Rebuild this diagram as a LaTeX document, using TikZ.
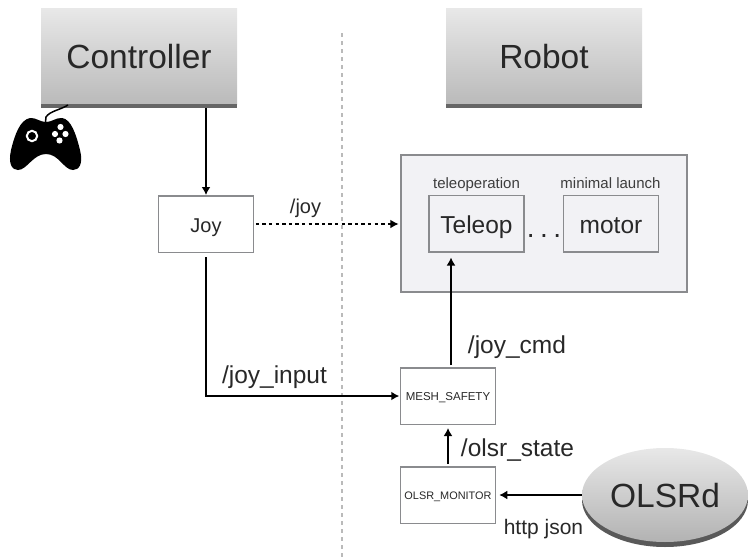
\documentclass[tikz,border=0pt]{standalone}
\usepackage{fontspec}
\setmainfont{Liberation Sans}
\usetikzlibrary{arrows.meta,shapes.geometric}
\definecolor{boxline}{HTML}{8A8B8E}
\definecolor{panel}{HTML}{F2F2F5}
\definecolor{txt}{HTML}{282828}
\newcommand{\dropped}[2]{\raisebox{-#1}[0pt][0pt]{#2}}
\tikzset{
  x=1pt,y=-1pt,
  flow/.style={line width=1.7pt,-{Latex[length=8pt,width=9pt]}},
  flowdash/.style={line width=1.7pt,dash pattern=on 3.4pt off 3.2pt,-{Latex[length=8.5pt,width=9pt]}},
  plainbox/.style={draw=boxline,line width=1.5pt,fill=white,inner sep=0pt,text=txt,minimum width=95pt,minimum height=56.5pt},
  innerbox/.style={draw=boxline,line width=1.5pt,fill=panel,inner sep=0pt,text=txt,minimum width=95pt,minimum height=56.5pt,font=\fontsize{24.5}{28}\selectfont},
  header/.style={inner sep=0pt,minimum width=196pt,minimum height=96pt,top color=black!9,bottom color=black!27,text=txt,font=\fontsize{33.5}{36}\selectfont},
  headerbar/.style={inner sep=0pt,minimum width=196pt,minimum height=3.7pt,fill=black!60},
  lab/.style={text=txt,inner sep=0pt,anchor=base,font=\fontsize{24.5}{28}\selectfont},
  small/.style={text=txt!90,inner sep=0pt,anchor=base,font=\fontsize{15}{18}\selectfont}
}
\begin{document}
\begin{tikzpicture}
\useasboundingbox (0,0) rectangle (748,560);
\draw[black!27,line width=2pt,dash pattern=on 4.2pt off 3.8pt] (342,33) -- (342,560);
% headers
\node[header] (ctrl) at (139,56) {\dropped{12.5pt}{Controller}};
\node[headerbar] (ctrlbar) at (139,105.8) {};
\node[header] (robot) at (544,56) {\dropped{12.5pt}{Robot}};
\node[headerbar] (robotbar) at (544,105.8) {};
% gamepad
\draw[line width=1.5pt,black] (68,105) .. controls (60,110) and (50,111) .. (46,117) -- (45.5,122);
\fill[black]
  (30,118) .. controls (36,117.5) and (40,122) .. (46,122)
  .. controls (52,122) and (56,117.5) .. (62,118)
  .. controls (71,119) and (76,134) .. (80,150)
  .. controls (83.5,164) and (79,170) .. (73,170)
  .. controls (64,170) and (59,154) .. (46,154)
  .. controls (33,154) and (27,170) .. (18,170)
  .. controls (12,170) and (8,164) .. (11,150)
  .. controls (15,134) and (20,120) .. (30,118) -- cycle;
\draw[white,line width=2pt] (32,136) circle (5.2pt);
\foreach \p in {(60.5,127),(55,134),(65.5,134),(59.5,140.5)} \fill[white] \p circle (3.1pt);
% panel
\node[draw=boxline,line width=1.5pt,fill=panel,minimum width=286pt,minimum height=137pt,inner sep=0pt] (panelbox) at (544,223.5) {};
\node[innerbox] (teleop) at (476.5,223.5) {\dropped{9.5pt}{Teleop}};
\node[innerbox] (motor) at (611,223.5) {\dropped{9.5pt}{motor}};
\node[small] (tlab) at (476.5,188) {teleoperation};
\node[small] (mlab) at (610.5,188) {minimal launch};
\node[text=txt,inner sep=0pt,anchor=base,font=\fontsize{28}{28}\selectfont] (dots) at (544,237) {.\hspace{5.5pt}.\hspace{5.5pt}.};
% boxes
\node[plainbox,font=\fontsize{20}{24}\selectfont] (joy) at (206,224) {\dropped{8.7pt}{Joy}};
\node[plainbox,font=\fontsize{11.5}{13}\selectfont] (mesh) at (448,396) {\dropped{4pt}{MESH\_SAFETY}};
\node[plainbox,font=\fontsize{10.9}{13}\selectfont] (olsrm) at (448,495) {\dropped{4pt}{OLSR\_MONITOR}};
% olsrd
\node[ellipse,inner sep=0pt,minimum width=166pt,minimum height=94pt,fill=black!65] (olsrshadow) at (665,500) {};
\node[ellipse,inner sep=0pt,minimum width=166pt,minimum height=94pt,top color=black!9,bottom color=black!30,text=txt,font=\fontsize{33.5}{36}\selectfont] (olsrd) at (665,495) {\dropped{12pt}{OLSRd}};
% connectors
\draw[flow] (joy.north |- ctrlbar.south) -- (joy.north);
\draw[flowdash,shorten <=1.5pt,shorten >=1.5pt] (joy.east) -- (joy.east -| panelbox.west);
\draw[flow,shorten <=2pt,shorten >=5pt] ([xshift=3pt]mesh.north) -- ([xshift=3pt]mesh.north |- teleop.south);
\draw[flow,shorten <=4pt,shorten >=0.5pt] (joy.south) |- (mesh.west);
\draw[flow,shorten <=2pt,shorten >=3pt] (olsrm.north) -- (mesh.south);
\draw[flow,shorten >=3pt] (olsrd.west) -- (olsrm.east);
% labels
\node[lab,font=\fontsize{20}{24}\selectfont] (ljoy) at (305.5,213) {/joy};
\node[lab] (ljin) at (274.5,383) {/joy\_input};
\node[lab] (ljcmd) at (517,353) {/joy\_cmd};
\node[lab] (lost) at (517.5,456) {/olsr\_state};
\node[lab,font=\fontsize{21}{24}\selectfont] (lhttp) at (543.5,534) {http json};
\end{tikzpicture}
\end{document}
